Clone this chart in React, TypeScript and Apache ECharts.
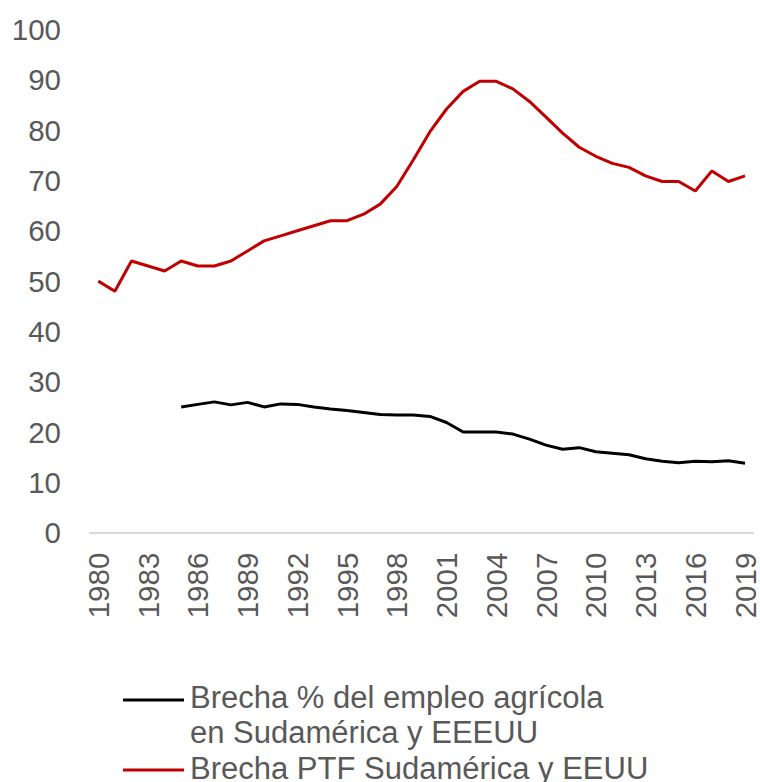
import React, { useEffect, useRef } from "react";
import * as echarts from "echarts";

const years: string[] = [];
for (let y = 1980; y <= 2019; y++) years.push(String(y));

const ptfGap: number[] = [
  50, 48, 54, 53, 52, 54, 53, 53, 54, 56,
  58, 59, 60, 61, 62, 62, 63.3, 65.3, 68.8, 74.1,
  79.7, 84.2, 87.7, 89.7, 89.7, 88.2, 85.7, 82.6, 79.4, 76.6,
  74.8, 73.4, 72.6, 70.9, 69.8, 69.8, 67.9, 71.9, 69.8, 70.9,
];

const empGap: (number | null)[] = [
  null, null, null, null, null, 25.0, 25.5, 26.0, 25.4, 25.9,
  25.0, 25.6, 25.5, 25.0, 24.6, 24.3, 23.9, 23.5, 23.4, 23.4,
  23.1, 21.9, 20.0, 20.0, 20.0, 19.6, 18.6, 17.4, 16.6, 16.9,
  16.1, 15.8, 15.5, 14.7, 14.2, 13.9, 14.2, 14.1, 14.3, 13.8,
];

const legendEmp = ["Brecha % del empleo agrícola", "en Sudamérica y EEEUU"];
const legendPtf = "Brecha PTF Sudamérica y EEUU";

const FONT = "'Liberation Sans', Arial, sans-serif";
const GRAY = "#595959";

export default function App() {
  const ref = useRef<HTMLDivElement>(null);
  useEffect(() => {
    if (!ref.current) return;
    const chart = echarts.init(ref.current, undefined, { renderer: "svg" });
    chart.setOption({
      animation: false,
      backgroundColor: "#ffffff",
      textStyle: { fontFamily: FONT },
      grid: { left: 90, right: 2, top: 29.5, bottom: 249.3, containLabel: false },
      xAxis: {
        type: "category",
        data: years,
        boundaryGap: true,
        axisLine: { show: true, lineStyle: { color: "#D9D9D9", width: 2 } },
        axisTick: { show: false },
        axisLabel: {
          interval: 2,
          rotate: 90,
          fontSize: 29.5,
          color: GRAY,
          fontFamily: FONT,
          margin: 20,
        },
        splitLine: { show: false },
      },
      yAxis: {
        type: "value",
        min: 0,
        max: 100,
        interval: 10,
        axisLine: { show: false },
        axisTick: { show: false },
        splitLine: { show: false },
        axisLabel: { fontSize: 29.5, color: GRAY, fontFamily: FONT, margin: 29 },
      },
      series: [
        {
          name: legendEmp.join(" "),
          type: "line",
          data: empGap,
          symbol: "none",
          lineStyle: { color: "#000000", width: 3 },
          itemStyle: { color: "#000000" },
          connectNulls: false,
        },
        {
          name: legendPtf,
          type: "line",
          data: ptfGap,
          symbol: "none",
          lineStyle: { color: "#C00000", width: 3 },
          itemStyle: { color: "#C00000" },
        },
      ],
      graphic: [
        {
          type: "line",
          shape: { x1: 123, y1: 700, x2: 184, y2: 700 },
          style: { stroke: "#000000", lineWidth: 3 },
        },
        {
          type: "text",
          x: 190,
          y: 697,
          style: {
            text: legendEmp[0],
            fontSize: 31,
            fontFamily: FONT,
            fill: GRAY,
            verticalAlign: "middle",
            align: "left",
          },
        },
        {
          type: "text",
          x: 190,
          y: 732.5,
          style: {
            text: legendEmp[1],
            fontSize: 31,
            fontFamily: FONT,
            fill: GRAY,
            verticalAlign: "middle",
            align: "left",
          },
        },
        {
          type: "line",
          shape: { x1: 123, y1: 770, x2: 184, y2: 770 },
          style: { stroke: "#C00000", lineWidth: 3 },
        },
        {
          type: "text",
          x: 190,
          y: 768,
          style: {
            text: legendPtf,
            fontSize: 31,
            fontFamily: FONT,
            fill: GRAY,
            verticalAlign: "middle",
            align: "left",
          },
        },
      ],
    });
    return () => chart.dispose();
  }, []);
  return (
    <div
      ref={ref}
      style={{ position: "fixed", left: 0, top: 0, width: 760, height: 782 }}
    />
  );
}
